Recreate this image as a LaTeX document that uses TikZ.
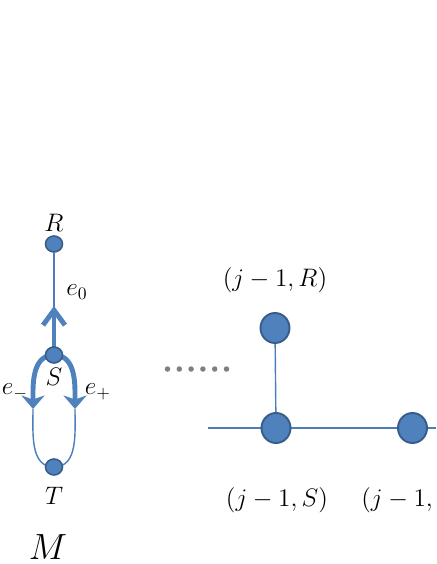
\documentclass[tikz,border=0pt]{standalone}
\usepackage{amsmath,amssymb}
\usepackage{tikz}
\usetikzlibrary{shapes.geometric,arrows.meta,positioning,backgrounds}
\definecolor{nodeBlue}{HTML}{4F81BD}
\definecolor{rimBlue}{HTML}{385D8A}
\definecolor{lineBlue}{HTML}{4A7EBB}
\definecolor{dotGrey}{HTML}{7F7F7F}

\begin{document}
\begin{tikzpicture}[
      x=0.02cm, y=-0.02cm,
      font=\fontsize{14pt}{16pt}\selectfont,
      vtx/.style={ellipse, fill=nodeBlue, draw=rimBlue, line width=0.9pt,
        minimum width=0.34cm, minimum height=0.32cm, inner sep=0pt},
      bigvtx/.style={ellipse, fill=nodeBlue, draw=rimBlue, line width=1.1pt,
        minimum width=0.58cm, minimum height=0.6cm, inner sep=0pt},
      lbl/.style={inner sep=0pt},
      edge/.style={draw=lineBlue, line width=0.8pt},
      fat/.style={draw=nodeBlue, line width=2.8pt, line cap=round},
      uparrow/.style={fat, -{Straight Barb[length=0.3cm, width=0.44cm, line width=2.8pt]}},
      downarrow/.style={fat, -{Stealth[length=0.27cm, width=0.46cm, inset=0.08cm]}}
    ]
      \useasboundingbox (0,0) rectangle (436,564);
      \clip (0,0) rectangle (436,564);

      % graph M
      \node[vtx] (R) at (54,244) {};
      \node[vtx] (S) at (54,355) {};
      \node[vtx] (T) at (54,467) {};
      \coordinate (up) at (54,306);
      \coordinate (em) at (33,409);
      \coordinate (ep) at (75,409);

      \begin{scope}[on background layer]
        \draw[edge] (R) -- (S);
        \draw[uparrow] (S.center) -- (up);
        \draw[downarrow] (S.center) to[out=180, in=90] (em);
        \draw[downarrow] (S.center) to[out=0, in=90] (ep);
        \draw[edge] (em) to[out=-90, in=180] (T.center);
        \draw[edge] (ep) to[out=-90, in=0] (T.center);
      \end{scope}

      \node[lbl, above=0.06cm of R] (labR) {$R$};
      \node[lbl, below=0.08cm of S] (labS) {$S$};
      \node[lbl, below=0.22cm of T] (labT) {$T$};
      \node[lbl] (labe0) at (77,292) {$e_0$};
      \node[lbl] (labem) at (15,392) {$e_-$};
      \node[lbl] (labep) at (98,392) {$e_+$};
      \node[lbl, font=\fontsize{21pt}{24pt}\selectfont] (labM) at (48,547) {$M$};

      % dots
      \foreach \i in {0,...,5}
        \fill[dotGrey] (167.5+11.8*\i,369) circle (0.055cm);

      % part of the big graph
      \node[bigvtx] (jR) at (275,328) {};
      \node[bigvtx] (jS) at (276,428) {};
      \node[bigvtx] (kS) at (412.5,428) {};
      \coordinate (west) at (208,428);
      \coordinate (east) at (436,428);
      \begin{scope}[on background layer]
        \draw[edge] (jR) -- (jS);
        \draw[edge] (west) -- (east);
      \end{scope}

      \node[lbl, above=0.38cm of jR] (labjR) {$(j-1,R)$};
      \node[lbl] (labjS) at (277,500) {$(j-1,S)$};
      \node[lbl, anchor=west] (labkS) at (361,500) {$(j-1,$};
    \end{tikzpicture}
\end{document}
